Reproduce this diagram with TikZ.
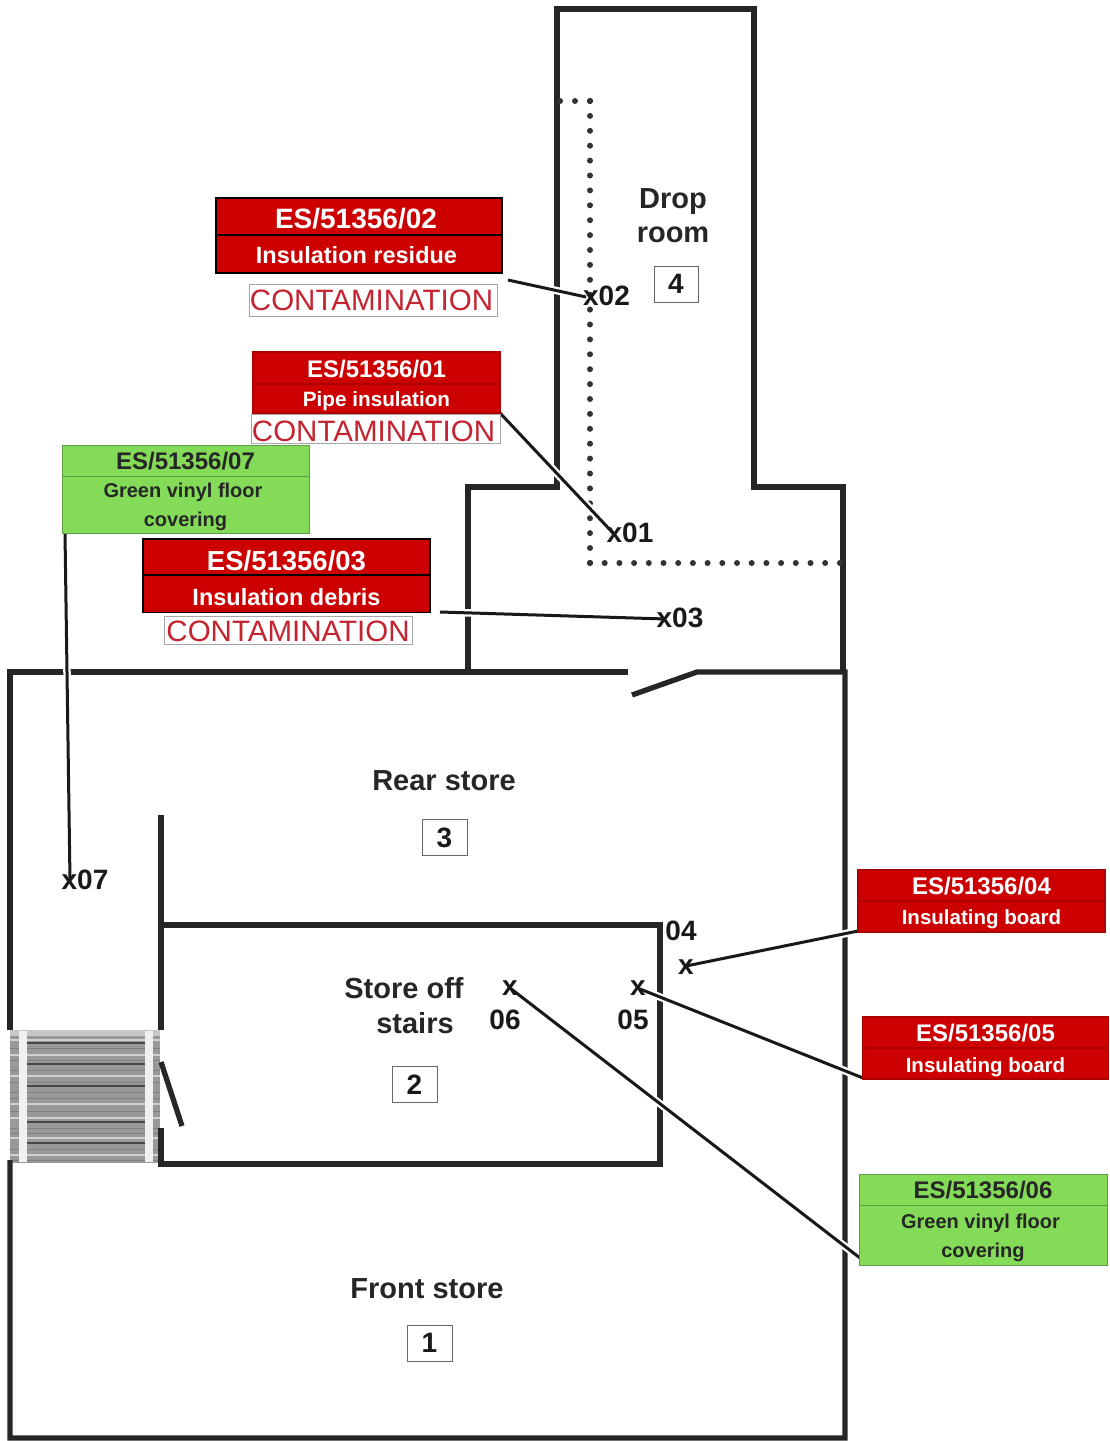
\documentclass[tikz,border=0pt]{standalone}
\usepackage{fontspec}
\setmainfont{Liberation Sans}
\definecolor{lred}{HTML}{CC0000}
\definecolor{lgreen}{HTML}{84DB58}
\definecolor{lgreenb}{HTML}{5C9E48}
\definecolor{cred}{HTML}{C4242F}
\newcommand{\fsz}[1]{\fontsize{#1}{#1}\selectfont}
\tikzset{
  wall/.style={draw=black!85,line width=5.3pt,line join=miter},
  conn/.style={draw=black!90,line width=3pt,preaction={draw=white,line width=7.5pt}},
  dotline/.style={draw=black!80,line width=6pt,line cap=round,dash pattern=on 0pt off #1},
  tb/.style={text height=#1,text depth=0pt},
  redbox/.style={fill=lred,draw=#1,line width=1.5pt,inner sep=0pt,text=white,align=center,font=\bfseries},
  greenbox/.style={fill=lgreen,draw=lgreenb,line width=1pt,inner sep=0pt,text=black!85,align=center,font=\bfseries},
  contam/.style={draw=black!35,line width=1pt,fill=white,inner sep=0pt,text=cred,font=\fsz{29.5}},
  roomname/.style={inner sep=0pt,align=center,text=black!85,font=\bfseries\fsz{29}},
  numbox/.style={draw=black!60,line width=1pt,fill=white,inner sep=0pt,minimum width=44pt,minimum height=36pt,font=\bfseries\fsz{28},text=black!90},
  smark/.style={inner sep=0pt,text=black!90,font=\bfseries\fsz{28}}
}
\begin{document}
\begin{tikzpicture}[x=1pt,y=-1pt]
\useasboundingbox (0,0) rectangle (1109,1441);
% stairs
\fill[black!40] (10,1030) rectangle (160,1163);
\fill[black!22] (10,1030) rectangle (160,1036);
\foreach \y in {1040,1055,1076,1104,1118,1138,1155}
  \draw[black!18,line width=2pt] (10,\y) -- (160,\y);
\foreach \y in {1048,1060,1070,1082,1092,1098,1111,1128,1133,1149,1160}
  \draw[black!50,line width=1pt] (10,\y) -- (160,\y);
\foreach \y in {1043,1064,1086,1122,1143}
  \draw[black!72,line width=2pt] (27,\y) -- (145,\y);
\fill[black!6] (19,1031) rectangle (27,1162);
\fill[black!6] (145,1031) rectangle (153,1162);
% walls
\draw[wall] (468,670) -- (468,487) -- (557,487) -- (557,9) -- (754,9) -- (754,487) -- (843,487) -- (843,672);
\draw[wall] (628,672) -- (10,672) -- (10,1030);
\draw[wall] (10,1160) -- (10,1438) -- (845,1438) -- (845,672) -- (697,672) -- (632,695);
\draw[wall] (161,815) -- (161,1030);
\draw[wall] (161,925) -- (660,925) -- (660,1164) -- (161,1164) -- (161,1128);
\draw[wall] (161,1062) -- (182,1126);
\draw[dotline=15pt] (560,101) -- (590,101);
\draw[dotline=14.9pt] (590,101) -- (590,563);
\draw[dotline=14.7pt] (590,563) -- (840.5,563);
% free connector ends
\coordinate (s02) at (508,280);
\coordinate (e02) at (586,297);
\coordinate (s01) at (500,413);
\coordinate (e01) at (613,533);
\coordinate (s03) at (440,612);
\coordinate (e03) at (666,619);
\coordinate (s07) at (65,533);
\coordinate (e07) at (70,880);
\coordinate (s04) at (858,931);
\coordinate (e04) at (686,966);
\coordinate (s05) at (863,1078);
\coordinate (e05) at (640,989);
\coordinate (s06) at (860,1258);
\coordinate (e06) at (510,988);
\draw[conn] (s02) -- (e02);
\draw[conn] (s01) -- (e01);
\draw[conn] (s03) -- (e03);
\draw[conn] (s07) -- (e07);
\draw[conn] (s04) -- (e04);
\draw[conn] (s05) -- (e05);
\draw[conn] (s06) -- (e06);
% label 02
\node[redbox=black,minimum width=286pt,minimum height=37pt,font=\bfseries\fsz{28},tb=23pt] (c02) at (359,216.5) {ES/51356/02\hspace*{6pt}};
\node[redbox=black,minimum width=286pt,minimum height=38pt,font=\bfseries\fsz{23.5},tb=19pt] (d02) at (359,254) {Insulation residue\hspace*{5pt}};
\node[contam,minimum width=248pt,minimum height=32pt,tb=21pt] (k02) at (373,300) {CONTAMINATION\hspace*{3pt}};
% label 01
\node[contam,minimum width=247pt,minimum height=29pt,tb=25pt] (k01) at (376,429) {CONTAMINATION\hspace*{5pt}};
\node[redbox=lred!85!black,minimum width=247pt,minimum height=32pt,font=\bfseries\fsz{24},tb=18pt] (c01) at (376.5,368) {ES/51356/01};
\node[redbox=lred!85!black,minimum width=247pt,minimum height=29pt,font=\bfseries\fsz{20.7},tb=16pt] (d01) at (376.5,398.5) {Pipe insulation};
% label 07
\node[greenbox,minimum width=247pt,minimum height=31pt,font=\bfseries\fsz{24},tb=17pt] (c07) at (185.5,460.5) {ES/51356/07};
\node[greenbox,minimum width=247pt,minimum height=57pt,font=\bfseries\fsz{20},execute at begin node={\baselineskip=29pt}] (d07) at (185.5,504.5) {\rule{0pt}{20pt}Green vinyl floor\hspace*{5pt}\\covering};
% label 03
\node[redbox=black,minimum width=287pt,minimum height=36pt,font=\bfseries\fsz{27.5},tb=26pt] (c03) at (286.5,557) {ES/51356/03};
\node[redbox=black,minimum width=287pt,minimum height=37pt,font=\bfseries\fsz{23.5},tb=23pt] (d03) at (286.5,594) {Insulation debris};
\node[contam,minimum width=248pt,minimum height=28pt,tb=23pt] (k03) at (288,630) {CONTAMINATION};
% label 04
\node[redbox=lred!85!black,minimum width=247pt,minimum height=31pt,font=\bfseries\fsz{24},tb=17pt] (c04) at (981.5,885.5) {ES/51356/04};
\node[redbox=lred!85!black,minimum width=247pt,minimum height=31pt,font=\bfseries\fsz{20.5},tb=16pt] (d04) at (981.5,916.5) {Insulating board};
% label 05
\node[redbox=lred!85!black,minimum width=246pt,minimum height=31pt,font=\bfseries\fsz{24},tb=18pt] (c05) at (985.5,1032.5) {ES/51356/05};
\node[redbox=lred!85!black,minimum width=246pt,minimum height=31pt,font=\bfseries\fsz{20.5},tb=18pt] (d05) at (985.5,1063.5) {Insulating board};
% label 06
\node[greenbox,minimum width=248pt,minimum height=31pt,font=\bfseries\fsz{24},tb=18pt] (c06) at (983,1189.5) {ES/51356/06};
\node[greenbox,minimum width=248pt,minimum height=60pt,font=\bfseries\fsz{20},execute at begin node={\baselineskip=29pt}] (d06) at (983,1235) {\rule{0pt}{20pt}Green vinyl floor\hspace*{5pt}\\covering};
% room names
\node[roomname,execute at begin node={\baselineskip=34pt}] (rdrop) at (673,216) {Drop\\room};
\node[roomname] (rrear) at (444,781) {Rear store};
\node[roomname,execute at begin node={\baselineskip=35pt}] (rstore) at (404,1006) {Store off\\\hspace*{22pt}stairs};
\node[roomname] (rfront) at (427,1289) {Front store};
\node[numbox] (n4) at (676,284) {4};
\node[numbox,minimum width=45pt] (n3) at (444.5,837.5) {3};
\node[numbox,minimum width=45pt] (n2) at (414.5,1084.5) {2};
\node[numbox,minimum width=45pt] (n1) at (429.5,1343) {1};
% sample marks
\node[smark] (x02) at (606.5,296) {x02};
\node[smark] (x01) at (630,533) {x01};
\node[smark] (x03) at (680,618) {x03};
\node[smark] (x07) at (85,880) {x07};
\node[smark] (l04) at (681,931) {04};
\node[smark] (x04) at (686,967) {x};
\node[smark] (x05) at (638,988) {x};
\node[smark] (l05) at (633,1020) {05};
\node[smark] (x06) at (510,988) {x};
\node[smark] (l06) at (505,1020) {06};
\end{tikzpicture}
\end{document}
